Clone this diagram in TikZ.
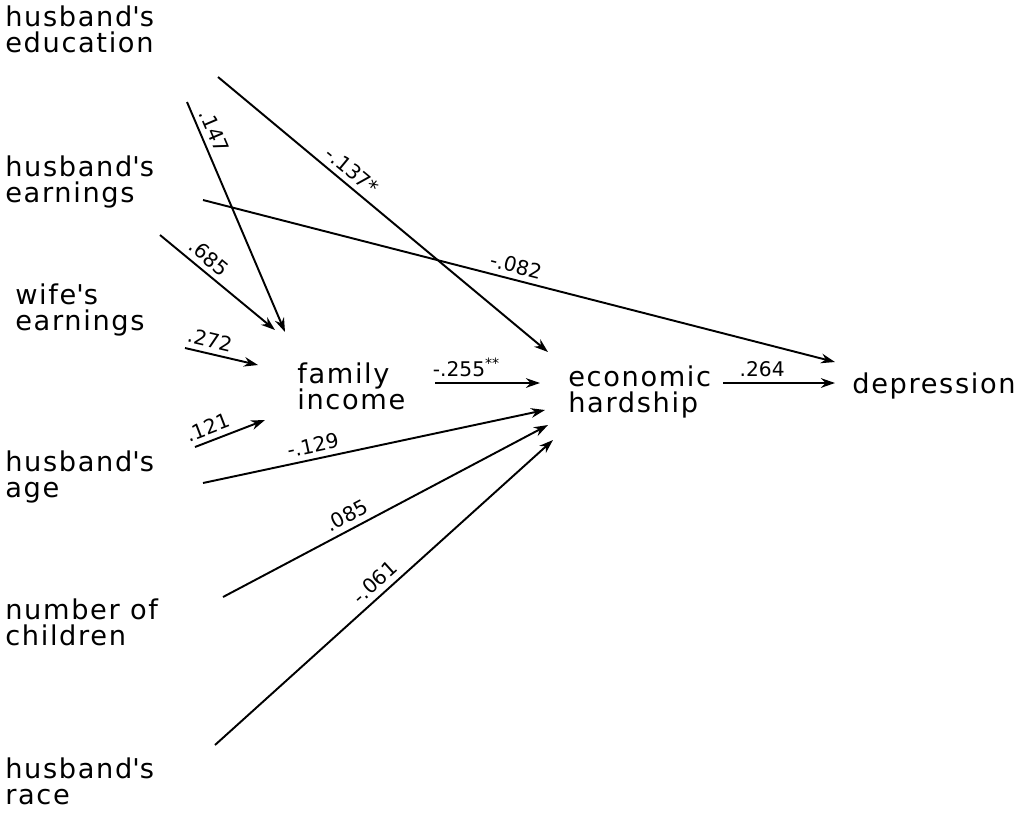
\documentclass[tikz,border=0pt]{standalone}
\usepackage{fontspec}
\setmainfont{DejaVu Sans}[LetterSpace=6]
\newfontfamily\coeffont{DejaVu Sans}
\usetikzlibrary{arrows.meta}

\begin{document}
\begin{tikzpicture}[x=0.02cm,y=-0.02cm,
  var/.style={anchor=north west,inner sep=0pt,align=left,
    font=\fontsize{15.5}{15.3}\selectfont},
  path/.style={line width=1.1pt,-{Stealth[length=8pt,width=5.5pt]}},
  coef/.style={sloped,above,inner sep=3pt,font=\coeffont\fontsize{11.5}{12}\selectfont}]
\useasboundingbox (0,0) rectangle (1033,812);
% variables
\node[var] (educ) at (5,5) {husband\textquotesingle s\\education};
\node[var] (earn) at (5,155) {husband\textquotesingle s\\earnings};
\node[var] (wife) at (15,283) {wife\textquotesingle s\\earnings};
\node[var] (age) at (5,450) {husband\textquotesingle s\\age};
\node[var] (child) at (5,598) {number of\\children};
\node[var] (race) at (5,757) {husband\textquotesingle s\\race};
\node[var] (inc) at (297,362) {family\\income};
\node[var] (hard) at (568,365) {economic\\hardship};
\node[var] (dep) at (852,372) {depression};
% paths into family income
\draw[path] ([shift={(182,97)}]educ.north west) -- ([shift={(-12,-30)}]inc.north west)
  node[coef,pos=0.15] {.147};
\draw[path] ([shift={(155,80)}]earn.north west) -- ([shift={(-22,-32)}]inc.north west)
  node[coef,pos=0.35] {.685};
\draw[path] ([shift={(170,65)}]wife.north west) -- ([shift={(-39,3)}]inc.north west)
  node[coef,pos=0.3] {.272};
\draw[path] ([shift={(190,-3)}]age.north west) -- ([shift={(-32,58)}]inc.north west)
  node[coef,pos=0.25] {.121};
% paths into economic hardship
\draw[path] ([shift={(213,72)}]educ.north west) -- ([shift={(-20,-13)}]hard.north west)
  node[coef,pos=0.38] {-.137*};
\draw[path] ([shift={(138,21)}]inc.north west) -- ([shift={(-28,18)}]hard.north west)
  node[coef,pos=0.3] {-.255\textsuperscript{**}};
\draw[path] ([shift={(198,33)}]age.north west) -- ([shift={(-23,45)}]hard.north west)
  node[coef,pos=0.33] {-.129};
\draw[path] ([shift={(218,-1)}]child.north west) -- ([shift={(-20,60)}]hard.north west)
  node[coef,pos=0.4] {.085};
\draw[path] ([shift={(210,-12)}]race.north west) -- ([shift={(-15,75)}]hard.north west)
  node[coef,pos=0.5] {-.061};
% paths into depression
\draw[path] ([shift={(198,45)}]earn.north west) -- ([shift={(-17,-10)}]dep.north west)
  node[coef,pos=0.49] {-.082};
\draw[path] ([shift={(155,18)}]hard.north west) -- ([shift={(-17,11)}]dep.north west)
  node[coef,pos=0.35] {.264};
\end{tikzpicture}
\end{document}
